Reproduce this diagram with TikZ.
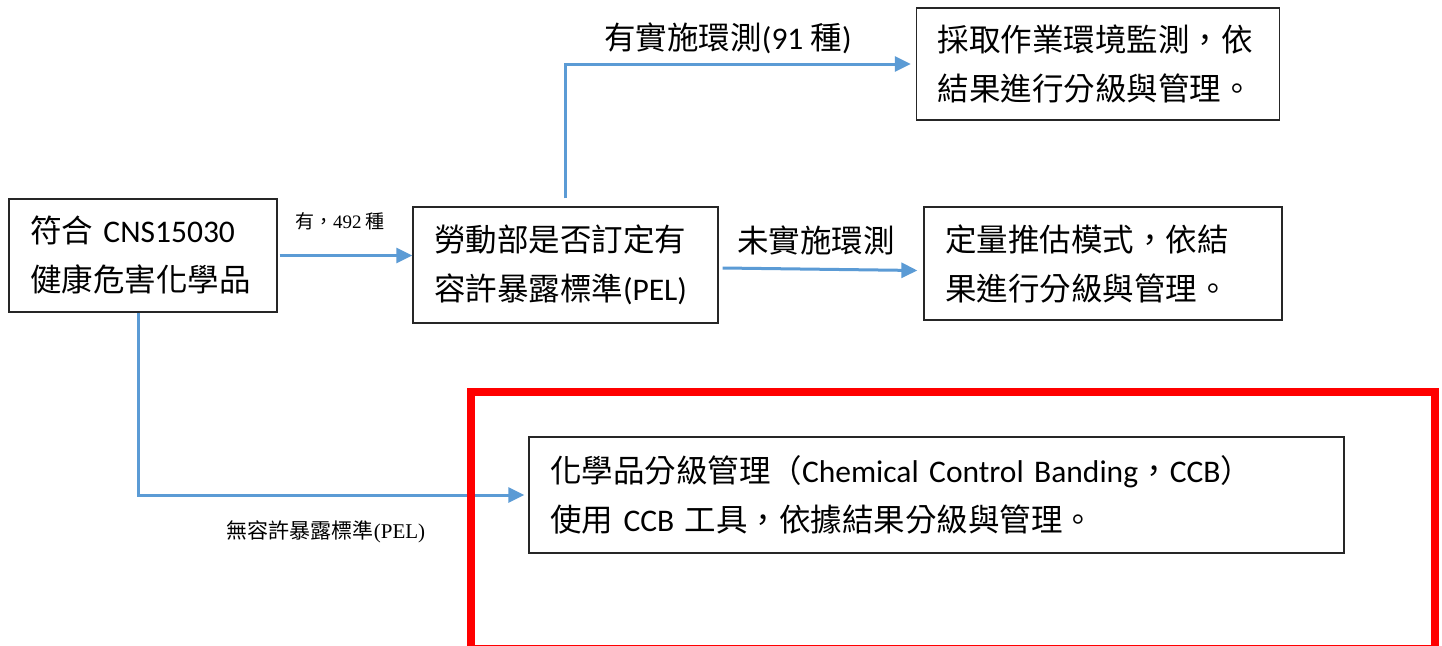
\documentclass[tikz,border=0pt]{standalone}
\usepackage{fontspec}
\setmainfont{Carlito}
\newfontfamily\cjk{Noto Sans CJK TC}
\newfontfamily\serifnum{Liberation Serif}
\usetikzlibrary{arrows.meta}
\definecolor{flowblue}{RGB}{91,155,213}
\definecolor{hlred}{RGB}{255,0,0}
\begin{document}
\begin{tikzpicture}[x=1pt,y=-1pt,
  box/.style={draw=black!85, line width=1.3pt, inner xsep=21pt, inner ysep=0pt, align=left, font=\fontsize{31.5pt}{49pt}\selectfont},
  arr/.style={draw=flowblue, line width=3pt, -{Triangle[length=16pt,width=15pt]}},
  lbl/.style={font=\cjk\fontsize{31.5pt}{36pt}\selectfont, inner sep=0pt},
  small/.style={font=\cjk\fontsize{19pt}{22pt}\selectfont, inner sep=0pt},
  hl/.style={draw=hlred, line width=8pt}]
\useasboundingbox (0,0) rectangle (1442,645);
\clip (0,0) rectangle (1442,645);
\fill[white] (0,0) rectangle (1442,645);

\node[box, text width=226pt, minimum height=113pt] (a) at (143,255.5)
  {{\cjk 符合} CNS15030\\{\cjk 健康危害化學品}};
\node[box, text width=263pt, minimum height=116pt] (b) at (565.5,265)
  {{\cjk 勞動部是否訂定有}\\{\cjk 容許暴露標準}(PEL)};
\node[box, text width=321pt, minimum height=112pt] (c) at (1098,64)
  {{\cjk 採取作業環境監測，依}\\{\cjk 結果進行分級與管理。}};
\node[box, text width=316pt, minimum height=113pt] (d) at (1103,263.5)
  {{\cjk 定量推估模式，依結}\\{\cjk 果進行分級與管理。}};
\node[box, text width=773pt, minimum height=116pt] (e) at (936.5,495)
  {{\cjk 化學品分級管理（}Chemical Control Banding{\cjk ，}CCB{\cjk ）}\\{\cjk 使用} CCB {\cjk 工具，依據結果分級與管理。}};

\draw[arr] ([xshift=2pt]a.east) -- (a.east -| b.west);
\draw[arr] ([xshift=4pt,yshift=-3pt]b.east) -- ([xshift=-6pt,yshift=-7pt]d.west);
\draw[arr] ([yshift=8pt]b.north) |- ([xshift=-5pt]c.west);
\draw[arr] ([xshift=-5pt]a.south) |- ([xshift=-4pt]e.west);

\node[small] (l1) at (340,221) {有，{\serifnum 492} 種};
\node[lbl] (l2) at (728,38) {有實施環測{\rmfamily (91} 種{\rmfamily )}};
\node[lbl] (l3) at (816,240) {未實施環測};
\node[small, font=\cjk\fontsize{21pt}{24pt}\selectfont] (l4) at (326,532) {無容許暴露標準{\serifnum (PEL)}};

\draw[hl] (471,391.5) rectangle (1435,649);
\end{tikzpicture}
\end{document}
